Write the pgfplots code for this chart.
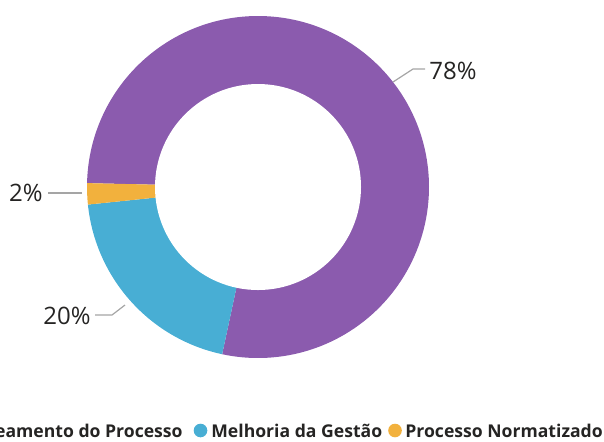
\documentclass[border=0pt]{standalone}
\usepackage{fontspec}
\setmainfont{Open Sans}
\usepackage{pgfplots}
\usepackage{pgfplotstable}
\pgfplotsset{compat=1.18}

\definecolor{mapeam}{RGB}{139,91,174}
\definecolor{melhoria}{RGB}{72,174,212}
\definecolor{normat}{RGB}{242,177,61}
\definecolor{txt}{RGB}{37,36,35}
\definecolor{guia}{RGB}{165,165,165}

% fatias da rosca (em %), no sentido horario
\pgfplotstableread[col sep=comma]{
categoria,valor,cor
Mapeamento do Processo,78,mapeam
Melhoria da Gestão,20,melhoria
Processo Normatizado,2,normat
}\dadosrosca

\begin{document}
\begin{tikzpicture}
\useasboundingbox (0,0) rectangle (302pt,220.5pt);
\clip (0,0) rectangle (302pt,220.5pt);
\begin{axis}[
  x=0.5pt, y=0.5pt,
  xmin=0, xmax=604, ymin=0, ymax=441,
  y dir=reverse,
  hide axis,
  clip=false,
]
\pgfplotstablegetrowsof{\dadosrosca}
\pgfmathtruncatemacro\nlin{\pgfplotsretval-1}
\def\angini{178.7}
\pgfplotsforeachungrouped \k in {0,...,\nlin}{
  \pgfplotstablegetelem{\k}{valor}\of\dadosrosca \let\valfatia\pgfplotsretval
  \pgfplotstablegetelem{\k}{cor}\of\dadosrosca \let\corfatia\pgfplotsretval
  \pgfmathsetmacro\angfim{\angini-3.6*\valfatia}
  \edef\fatia{\noexpand\fill[\corfatia] (axis cs:258,187) -- ++(\angini:85.5pt)
    arc[start angle=\angini, end angle=\angfim, radius=85.5pt] -- cycle;}
  \fatia
  \let\angini\angfim
}
\fill[white] (axis cs:258,187) circle[radius=51.5pt];

% rotulos
\draw[guia, line width=0.6pt] (axis cs:393,82) -- (axis cs:413,69) -- (axis cs:425,69);
\node[anchor=west, inner sep=0pt, text=txt, font=\fontsize{12}{14}\selectfont] at (axis cs:429,71) {78\%};
\draw[guia, line width=0.6pt] (axis cs:82,193) -- (axis cs:48,193);
\node[anchor=east, inner sep=0pt, text=txt, font=\fontsize{12}{14}\selectfont] at (axis cs:43,193) {2\%};
\draw[guia, line width=0.6pt] (axis cs:125,305) -- (axis cs:112,315) -- (axis cs:95,315);
\node[anchor=east, inner sep=0pt, text=txt, font=\fontsize{12}{14}\selectfont] at (axis cs:91,316) {20\%};

% legenda
\node[anchor=base east, inner sep=0pt, text=txt, font=\bfseries\fontsize{8.8}{11}\selectfont] at (axis cs:183,437) {Mapeamento do Processo};
\fill[melhoria] (axis cs:200.5,430.5) circle[radius=3.4pt];
\node[anchor=base west, inner sep=0pt, text=txt, font=\bfseries\fontsize{8.8}{11}\selectfont] at (axis cs:211,437) {Melhoria da Gestão};
\fill[normat] (axis cs:395,430.5) circle[radius=3.4pt];
\node[anchor=base west, inner sep=0pt, text=txt, font=\bfseries\fontsize{8.8}{11}\selectfont] at (axis cs:405,437) {Processo Normatizado};
\end{axis}
\end{tikzpicture}
\end{document}
